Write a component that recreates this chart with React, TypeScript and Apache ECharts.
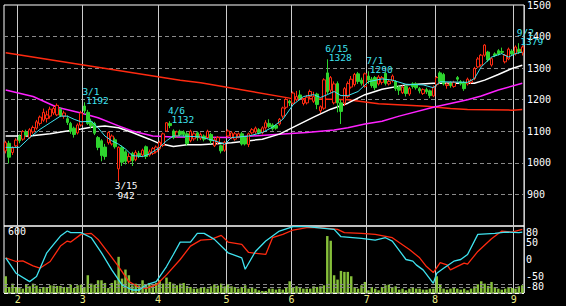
import React, { useEffect, useRef } from 'react';
import * as echarts from 'echarts';

// ---------- data ----------
const HOLIDAYS = ['2011-02-11', '2011-03-21', '2011-04-29', '2011-05-03', '2011-05-04', '2011-05-05', '2011-07-18'];
function tradingDays(start: [number, number, number], end: [number, number, number]): string[] {
  const out: string[] = [];
  const d = new Date(Date.UTC(start[0], start[1] - 1, start[2]));
  const e = new Date(Date.UTC(end[0], end[1] - 1, end[2]));
  while (d.getTime() <= e.getTime()) {
    const wd = d.getUTCDay();
    const iso = d.toISOString().slice(0, 10);
    if (wd !== 0 && wd !== 6 && HOLIDAYS.indexOf(iso) < 0) out.push(`${d.getUTCMonth() + 1}/${d.getUTCDate()}`);
    d.setUTCDate(d.getUTCDate() + 1);
  }
  return out;
}
const DATES = tradingDays([2011, 1, 26], [2011, 9, 5]);

// [open, close, low, high]
const CANDLES: number[][] = [
  [1038, 1064, 1030, 1070], [1062, 1018, 998, 1070], [1033, 1047, 1025, 1052], [1054, 1072, 1048, 1078],
  [1085, 1070, 1062, 1090], [1075, 1099, 1070, 1104], [1098, 1088, 1082, 1105], [1080, 1105, 1076, 1110],
  [1098, 1112, 1092, 1118], [1110, 1130, 1105, 1136], [1125, 1145, 1118, 1150], [1135, 1160, 1130, 1172],
  [1140, 1152, 1128, 1165], [1148, 1170, 1140, 1178], [1158, 1172, 1152, 1180], [1152, 1182, 1148, 1188],
  [1170, 1150, 1145, 1175], [1148, 1158, 1140, 1165], [1140, 1128, 1120, 1150], [1125, 1100, 1092, 1130],
  [1110, 1090, 1080, 1115], [1095, 1120, 1090, 1125], [1120, 1158, 1115, 1165], [1180, 1165, 1155, 1192],
  [1160, 1125, 1120, 1168], [1130, 1118, 1110, 1140], [1125, 1094, 1088, 1130], [1080, 1049, 1040, 1085],
  [1070, 1023, 1005, 1075], [1050, 1020, 1010, 1060], [1064, 1096, 1058, 1100], [1060, 1085, 1055, 1090],
  [1073, 1051, 1045, 1080], [981, 1049, 942, 1052], [1049, 1002, 990, 1055], [1035, 1005, 995, 1040],
  [1005, 1020, 998, 1030], [1030, 1007, 990, 1035], [1010, 1033, 1005, 1040], [1030, 1022, 1015, 1038],
  [1025, 1040, 1018, 1045], [1051, 1020, 1012, 1055], [1025, 1035, 1020, 1042], [1030, 1045, 1025, 1050],
  [1035, 1050, 1030, 1055], [1045, 1065, 1040, 1070], [1055, 1092, 1050, 1096], [1101, 1127, 1098, 1129],
  [1125, 1118, 1110, 1132], [1101, 1080, 1075, 1106], [1085, 1098, 1080, 1102], [1100, 1090, 1085, 1105],
  [1098, 1090, 1082, 1103], [1092, 1061, 1055, 1098], [1070, 1100, 1065, 1105], [1076, 1092, 1070, 1098],
  [1095, 1080, 1070, 1100], [1078, 1090, 1072, 1096], [1085, 1075, 1068, 1090], [1080, 1100, 1075, 1105],
  [1090, 1070, 1060, 1095], [1054, 1073, 1050, 1080], [1065, 1080, 1058, 1085], [1054, 1038, 1030, 1058],
  [1040, 1065, 1035, 1070], [1085, 1101, 1080, 1106], [1080, 1095, 1075, 1100], [1075, 1092, 1070, 1098],
  [1082, 1092, 1078, 1096], [1092, 1060, 1055, 1098], [1080, 1060, 1055, 1085], [1058, 1092, 1050, 1096],
  [1095, 1105, 1090, 1110], [1098, 1110, 1092, 1115], [1105, 1095, 1090, 1110], [1096, 1111, 1090, 1116],
  [1111, 1127, 1105, 1135], [1125, 1115, 1110, 1138], [1120, 1108, 1102, 1125], [1118, 1110, 1105, 1122],
  [1123, 1138, 1118, 1142], [1148, 1174, 1140, 1178], [1176, 1201, 1170, 1205], [1195, 1190, 1180, 1200],
  [1189, 1221, 1185, 1226], [1200, 1210, 1195, 1228], [1215, 1205, 1198, 1230], [1188, 1200, 1182, 1205],
  [1190, 1208, 1185, 1215], [1210, 1226, 1205, 1232], [1195, 1210, 1190, 1225], [1218, 1185, 1170, 1222],
  [1165, 1178, 1158, 1182], [1173, 1263, 1168, 1268], [1285, 1225, 1218, 1328], [1230, 1270, 1222, 1275],
  [1190, 1250, 1185, 1258], [1251, 1190, 1160, 1258], [1190, 1163, 1123, 1200], [1189, 1235, 1180, 1240],
  [1210, 1251, 1205, 1258], [1240, 1265, 1235, 1275], [1248, 1280, 1242, 1285], [1282, 1258, 1250, 1288],
  [1262, 1252, 1245, 1270], [1242, 1282, 1238, 1286], [1275, 1262, 1250, 1290], [1265, 1245, 1238, 1272],
  [1270, 1238, 1230, 1275], [1250, 1272, 1245, 1278], [1255, 1270, 1248, 1275], [1283, 1252, 1245, 1288],
  [1250, 1258, 1245, 1265], [1260, 1275, 1255, 1280], [1257, 1235, 1228, 1262], [1240, 1230, 1215, 1245],
  [1222, 1240, 1218, 1245], [1242, 1220, 1210, 1248], [1218, 1235, 1212, 1240], [1250, 1242, 1235, 1255],
  [1250, 1238, 1232, 1255], [1235, 1228, 1220, 1240], [1220, 1232, 1215, 1236], [1232, 1225, 1218, 1238],
  [1228, 1213, 1205, 1232], [1212, 1240, 1208, 1245], [1248, 1270, 1242, 1275], [1285, 1257, 1250, 1290],
  [1280, 1250, 1245, 1285], [1245, 1250, 1235, 1255], [1252, 1245, 1238, 1258], [1242, 1255, 1238, 1260],
  [1270, 1265, 1258, 1275], [1257, 1250, 1245, 1262], [1255, 1235, 1228, 1260], [1250, 1265, 1245, 1270],
  [1255, 1260, 1250, 1266], [1267, 1299, 1262, 1304], [1304, 1329, 1300, 1335], [1310, 1341, 1305, 1345],
  [1341, 1373, 1336, 1376], [1351, 1326, 1320, 1355], [1310, 1330, 1305, 1335], [1345, 1340, 1335, 1350],
  [1355, 1345, 1340, 1360], [1353, 1350, 1345, 1365], [1320, 1341, 1315, 1345], [1329, 1360, 1325, 1365],
  [1354, 1345, 1340, 1360], [1345, 1367, 1340, 1372], [1360, 1352, 1345, 1379], [1349, 1367, 1340, 1372],
];

const VOLUME: number[] = [
  150, 54, 84, 54, 48, 39, 78, 60, 84, 66, 39, 54, 54, 69, 66, 63, 63, 54, 54, 75,
  45, 69, 75, 54, 159, 84, 75, 114, 114, 90, 45, 90, 114, 324, 129, 210, 159, 69, 84, 69,
  114, 78, 90, 69, 90, 114, 84, 138, 99, 84, 69, 84, 90, 63, 54, 39, 39, 45, 54, 39,
  60, 78, 66, 84, 60, 78, 60, 54, 39, 54, 69, 39, 54, 39, 24, 18, 18, 39, 39, 30,
  39, 30,
  54, 105, 54, 60, 54, 39, 39, 39, 60, 54, 60, 69, 510, 468, 159, 120, 198, 189, 189, 150,
  54, 39, 69, 99, 24, 54, 39, 24, 54, 69, 75, 54, 60, 30, 39, 24, 39, 54, 39, 39,
  30, 30, 39, 39, 150, 78, 39, 30, 39, 45, 39, 30, 39, 24, 39, 60, 78, 105, 84, 63,
  99, 54, 39, 30, 39, 54, 45, 39, 60, 69,
];

// moving averages read as [index, price]
const MA_CYAN: number[][] = [
  [0, 1049], [4, 1049], [7, 1080], [10, 1106], [13, 1127], [16, 1148], [18, 1148], [20, 1138], [22, 1130],
  [25, 1132], [27, 1111], [29, 1085], [31, 1070], [33, 1059], [35, 1044], [37, 1023], [40, 1020], [42, 1028],
  [45, 1049], [47, 1070], [49, 1085], [52, 1085], [57, 1082], [61, 1070], [64, 1059], [66, 1080], [71, 1085],
  [75, 1096], [78, 1113], [81, 1138], [84, 1184], [87, 1210], [90, 1216], [92, 1207], [94, 1216], [96, 1226],
  [98, 1213], [100, 1213], [103, 1226], [106, 1257], [110, 1266], [113, 1262], [117, 1249], [122, 1247],
  [125, 1238], [127, 1257], [135, 1255], [137, 1267], [139, 1304], [142, 1335], [145, 1346], [147, 1335],
  [149, 1346], [151, 1351],
];
const MA_WHITE: number[][] = [
  [0, 1085], [7, 1085], [13, 1092], [17, 1099], [22, 1107], [25, 1113], [29, 1117], [33, 1111], [37, 1096],
  [42, 1075], [45, 1061], [49, 1052], [53, 1057], [57, 1057], [66, 1064], [75, 1075], [80, 1091], [90, 1145],
  [95, 1170], [100, 1189], [105, 1216], [110, 1233], [117, 1247], [125, 1252], [137, 1252], [140, 1262],
  [144, 1280], [148, 1299], [151, 1309],
];
const MA_MAGENTA: number[][] = [
  [0, 1231], [8, 1210], [15, 1176], [22, 1158], [27, 1143], [33, 1117], [37, 1101], [43, 1085], [49, 1082],
  [66, 1080], [80, 1091], [88, 1096], [96, 1104], [100, 1111], [105, 1123], [110, 1132], [115, 1148],
  [125, 1176], [135, 1200], [139, 1212], [144, 1231], [151, 1252],
];
const MA_RED: number[][] = [
  [0, 1349], [51, 1262], [57, 1254], [83, 1205], [100, 1200], [109, 1187], [123, 1179], [130, 1172],
  [135, 1169], [148, 1167], [151, 1169],
];

// oscillator read as [index, value]
const OSC_CYAN: number[][] = [
  [0, 5], [3, -41], [7, -66], [9, -51], [12, 20], [14, 45], [16, 70], [18, 85], [19, 80], [22, 80], [25, 65],
  [28, 20], [31, -31], [34, -76], [37, -91], [39, -91], [41, -76], [44, -66], [47, -21], [49, 15], [51, 52],
  [54, 52], [56, 78], [58, 78], [61, 60], [65, 20], [69, 5], [70, -29], [73, 24], [76, 55], [80, 85], [84, 98],
  [88, 98], [96, 90], [98, 68], [104, 63], [108, 58], [111, 65], [113, 55], [117, 0], [119, -5], [120, -16],
  [122, -31], [125, -71], [126, -41], [128, -26], [131, -5], [133, 0], [135, 15], [138, 75], [143, 78],
  [146, 82], [150, 80], [151, 82],
];
const OSC_RED: number[][] = [
  [0, 5], [3, -6], [5, -4], [8, -19], [10, -26], [13, -6], [16, 40], [18, 55], [19, 52], [22, 75], [25, 78],
  [27, 60], [30, 20], [33, -21], [36, -66], [39, -83], [41, -86], [44, -76], [47, -46], [51, 0], [54, 40],
  [57, 58], [60, 60], [63, 72], [65, 52], [69, 45], [71, 21], [76, 15], [78, 65], [81, 75], [84, 88], [88, 95],
  [92, 95], [97, 90], [99, 80], [104, 78], [108, 75], [113, 65], [118, 30], [121, 5], [123, -21], [125, -39],
  [127, -9], [129, -16], [130, -31], [134, -11], [135, -14], [138, 24], [142, 62], [145, 85], [148, 82],
  [151, 90],
];

const PRICE_TICKS = [900, 1000, 1100, 1200, 1300, 1400, 1500];
const OSC_TICKS = [80, 50, 0, -50, -80];
const VOLUME_LABEL = '600';

const HIGH_NOTES = [
  { date: '3/1', price: 1192 },
  { date: '4/6', price: 1132 },
  { date: '6/15', price: 1328 },
  { date: '7/1', price: 1290 },
  { date: '9/2', price: 1379 },
];
const LOW_NOTES = [{ date: '3/15', price: 942 }];

// ---------- styles ----------
const FONT = 'DejaVu Sans Mono';
const C_UP = '#ff2a10';
const C_DOWN = '#2ed42e';
const C_CYAN = '#3fe3f0';
const C_GRID = '#8a8a8a';
const C_VLINE = '#cccccc';

export default function App() {
  const ref = useRef<HTMLDivElement>(null);
  useEffect(() => {
    const chart = echarts.init(ref.current!, null, { renderer: 'svg' });
    const month = DATES.map((d) => d.split('/')[0]);
    const isMonthStart = (i: number) => i > 0 && month[i] !== month[i - 1];

    const notes: any[] = [];
    HIGH_NOTES.forEach((n) => {
      const lbl = { show: true, color: C_CYAN, fontFamily: FONT, fontSize: 9.5, lineHeight: 8, align: 'left', verticalAlign: 'middle' };
      notes.push({ coord: [n.date, n.price], label: { ...lbl, formatter: n.date, position: [-1.5, -10.5] } });
      notes.push({ coord: [n.date, n.price], label: { ...lbl, formatter: String(n.price), position: [2, -1] } });
    });
    LOW_NOTES.forEach((n) => {
      const lbl = { show: true, color: '#ffffff', fontFamily: FONT, fontSize: 9.5, lineHeight: 8, align: 'center', verticalAlign: 'middle' };
      notes.push({ coord: [n.date, n.price], label: { ...lbl, formatter: n.date, position: [8, 5] } });
      notes.push({ coord: [n.date, n.price], label: { ...lbl, formatter: String(n.price), position: [8, 14.5] } });
    });

    const xBase = {
      type: 'category',
      data: DATES,
      boundaryGap: true,
      axisLine: { show: false },
      axisTick: { show: false },
      splitLine: { show: true, interval: (i: number) => isMonthStart(i), lineStyle: { color: C_VLINE, width: 1 } },
    };

    const maLine = (data: number[][], color: string, width: number) => ({
      type: 'line',
      xAxisIndex: 0,
      yAxisIndex: 0,
      data,
      symbol: 'none',
      lineStyle: { color, width },
      silent: true,
      z: 3,
    });

    const option: any = {
      animation: false,
      backgroundColor: '#000000',
      grid: [
        { left: 4, top: 2, width: 520, height: 224, show: true, borderColor: '#ffffff', borderWidth: 1, backgroundColor: 'transparent' },
        { left: 4, top: 226, width: 520, height: 67, show: true, borderColor: '#ffffff', borderWidth: 1, backgroundColor: 'transparent' },
      ],
      xAxis: [
        { ...xBase, gridIndex: 0, axisLabel: { show: false } },
        {
          ...xBase,
          gridIndex: 1,
          axisLabel: {
            show: true,
            interval: (i: number) => isMonthStart(i),
            formatter: (v: string) => v.split('/')[0],
            color: '#eeee88',
            fontFamily: FONT,
            fontSize: 10,
            margin: 1,
            padding: [0, 3.4, 0, 0],
          },
        },
      ],
      yAxis: [
        {
          type: 'value',
          gridIndex: 0,
          position: 'right',
          min: 800,
          max: 1500,
          interval: 100,
          axisLine: { show: false },
          axisTick: { show: false },
          axisLabel: {
            color: '#ffffff',
            fontFamily: FONT,
            fontSize: 10,
            margin: 3,
            align: 'left',
            padding: [5, 0, 0, 0],
            formatter: (v: number) => (PRICE_TICKS.indexOf(v) >= 0 ? String(v) : ''),
          },
          splitLine: { show: true, showMinLine: false, showMaxLine: false, lineStyle: { color: C_GRID, type: [4, 3], width: 1 } },
        },
        {
          type: 'value',
          gridIndex: 1,
          position: 'right',
          min: -100,
          max: 100,
          interval: 10,
          axisLine: { show: false },
          axisTick: { show: false },
          axisLabel: {
            color: '#ffffff',
            fontFamily: FONT,
            fontSize: 10,
            margin: 2,
            align: 'left',
            formatter: (v: number) => (OSC_TICKS.indexOf(v) >= 0 ? String(v) : ''),
          },
          splitLine: { show: false },
        },
        { type: 'value', gridIndex: 1, min: 0, max: 600, show: false, splitLine: { show: false } },
      ],
      graphic: [
        { type: 'text', left: 8, top: 226, z: 10, style: { text: VOLUME_LABEL, fill: '#ffffff', font: `10px "${FONT}"` } },
      ],
      series: [
        {
          type: 'bar',
          xAxisIndex: 1,
          yAxisIndex: 2,
          data: VOLUME,
          barWidth: '72%',
          itemStyle: { color: '#86c03a' },
          silent: true,
          z: 1,
          markLine: {
            silent: true,
            symbol: 'none',
            label: { show: false },
            data: OSC_TICKS.map((v) => ({
              yAxis: v,
              lineStyle: { color: v === 0 ? '#ffffff' : C_GRID, type: [4, 3], width: 1 },
            })),
          },
        },
        {
          type: 'line',
          xAxisIndex: 1,
          yAxisIndex: 1,
          data: OSC_RED,
          symbol: 'none',
          lineStyle: { color: C_UP, width: 1.3 },
          silent: true,
          z: 3,
        },
        {
          type: 'line',
          xAxisIndex: 1,
          yAxisIndex: 1,
          data: OSC_CYAN,
          symbol: 'none',
          lineStyle: { color: C_CYAN, width: 1.3 },
          silent: true,
          z: 3,
        },
        maLine(MA_RED, C_UP, 1.5),
        maLine(MA_MAGENTA, '#ff22ff', 1.5),
        maLine(MA_WHITE, '#ffffff', 1.5),
        {
          type: 'candlestick',
          xAxisIndex: 0,
          yAxisIndex: 0,
          data: CANDLES,
          barWidth: 3,
          silent: true,
          z: 4,
          itemStyle: { color: '#000000', color0: C_DOWN, borderColor: C_UP, borderColor0: C_DOWN, borderWidth: 1 },
          markPoint: {
            silent: true,
            symbol: 'rect',
            symbolSize: 1,
            itemStyle: { color: 'rgba(0,0,0,0)' },
            data: notes,
            z: 6,
          },
        },
        { ...maLine(MA_CYAN, C_CYAN, 1), z: 5 },
      ],
    };
    chart.setOption(option);
    return () => chart.dispose();
  }, []);
  return (
    <div
      ref={ref}
      style={{ position: 'fixed', left: 0, top: 0, width: 566, height: 306, background: '#000' }}
    />
  );
}
